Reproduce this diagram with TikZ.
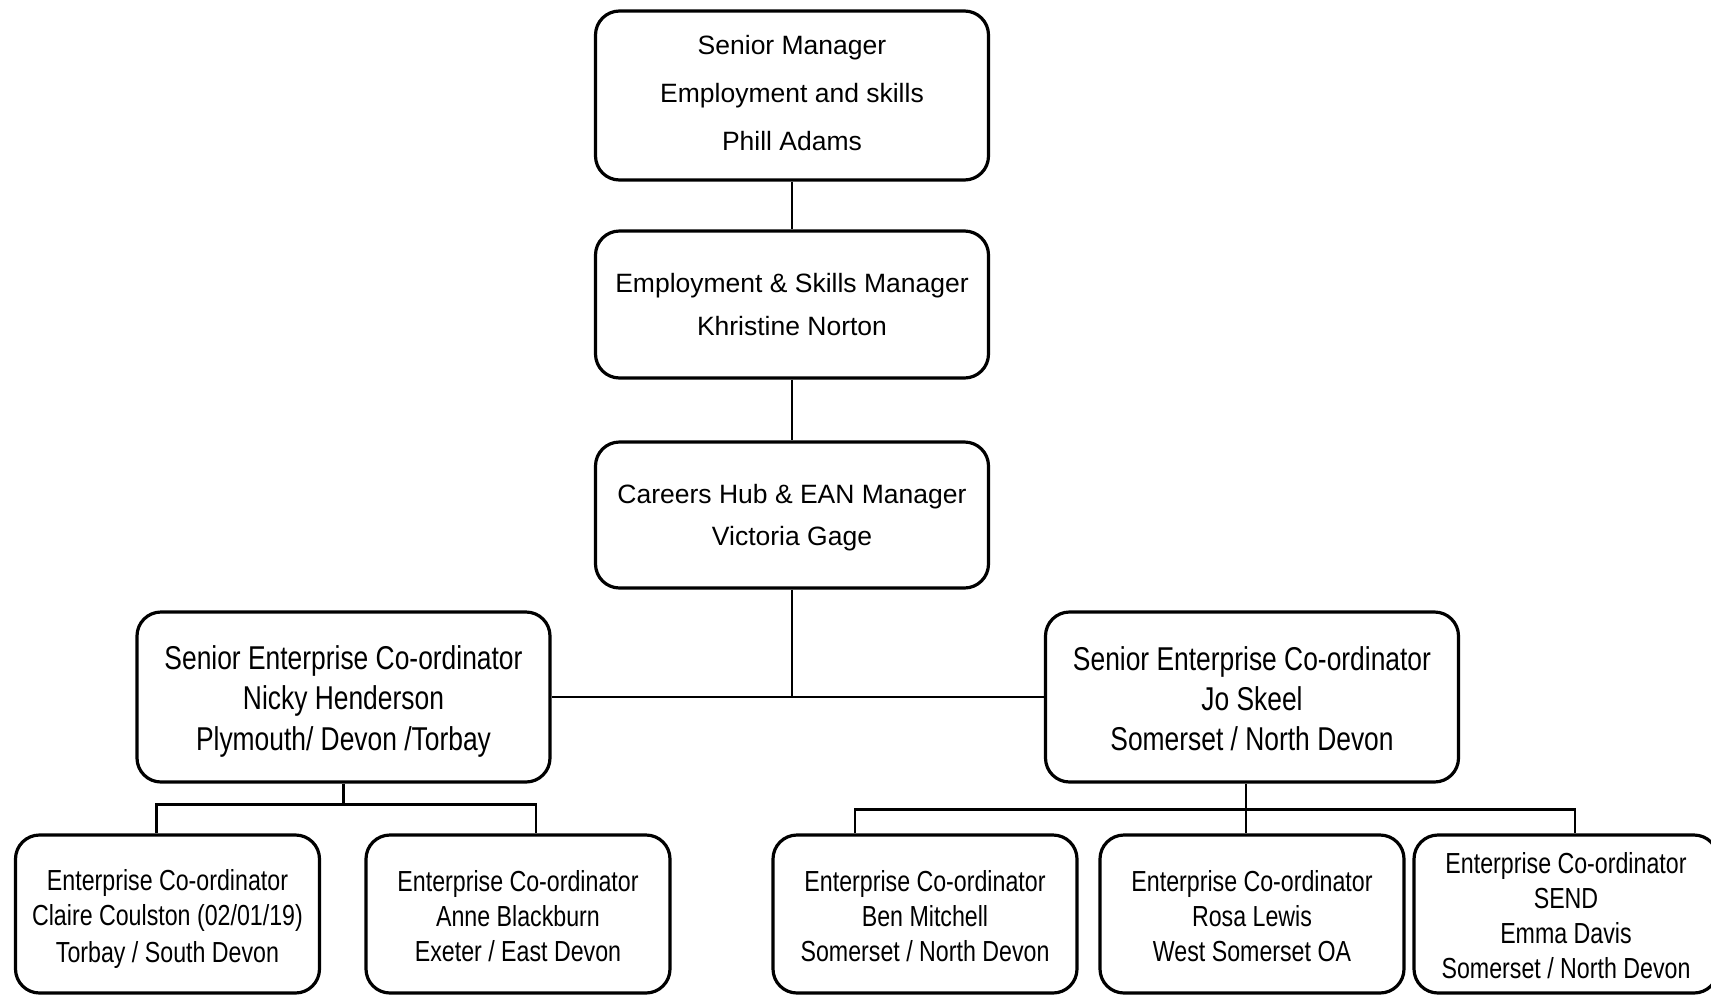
\documentclass[tikz,border=0pt]{standalone}
\usepackage{fontspec}
\setmainfont{Liberation Sans}
\newfontfamily\narrowfont[FakeStretch=0.8]{Liberation Sans}
\newcommand{\seniorstrut}{\rule[-8pt]{0pt}{42pt}}
\newcommand{\coordstrut}{\rule[-6pt]{0pt}{36pt}}
\tikzstyle{box}=[draw, line width=3.2pt, rounded corners=24pt, align=center, inner sep=0pt]
\tikzstyle{manager box}=[box, minimum width=393pt, font=\fontsize{26.5}{42.5}\selectfont]
\tikzstyle{senior box}=[box, minimum width=413pt, minimum height=170pt, font=\narrowfont\fontsize{33}{40}\selectfont]
\tikzstyle{coord box}=[box, minimum width=304pt, minimum height=158pt, font=\narrowfont\fontsize{29}{35}\selectfont]
\tikzstyle{link}=[line width=2.7pt]

\begin{document}
\begin{tikzpicture}[x=1pt,y=-1pt]
    \useasboundingbox (0,0) rectangle (1711,994);
    \clip (0,0) rectangle (1711,994);

    % Managers
    \draw (792,95.5) node[manager box, minimum height=169pt, font=\fontsize{26.5}{48}\selectfont] (senior) {Senior Manager\\Employment and skills\\Phill Adams\rule[-4.5pt]{0pt}{0pt}};
    \draw (792,304.5) node[manager box, minimum height=147pt] (skills) {Employment \& Skills Manager\\Khristine Norton};
    \draw (792,515) node[manager box, minimum height=146pt] (hub) {\rule{0pt}{24pt}Careers Hub \& EAN Manager\\Victoria Gage};

    % Senior co-ordinators
    \draw (343.5,697) node[senior box] (nicky) {\seniorstrut Senior Enterprise Co-ordinator\\Nicky Henderson\\Plymouth/ Devon /Torbay\seniorstrut};
    \draw (1252,697) node[senior box] (jo) {\seniorstrut Senior Enterprise Co-ordinator\\Jo Skeel\\Somerset / North Devon\seniorstrut};

    % Co-ordinators
    \draw (167.5,914) node[coord box] (claire) {\coordstrut Enterprise Co-ordinator\\Claire Coulston (02/01/19)\\Torbay / South Devon\coordstrut};
    \draw (518,914) node[coord box] (anne) {\coordstrut Enterprise Co-ordinator\\Anne Blackburn\\Exeter / East Devon\coordstrut};
    \draw (925,914) node[coord box] (ben) {\coordstrut Enterprise Co-ordinator\\Ben Mitchell\\Somerset / North Devon\coordstrut};
    \draw (1252,914) node[coord box] (rosa) {\coordstrut Enterprise Co-ordinator\\Rosa Lewis\\West Somerset OA\coordstrut};
    \draw (1566,914) node[coord box] (emma) {\coordstrut Enterprise Co-ordinator\\SEND\\Emma Davis\\Somerset / North Devon\coordstrut};

    % Links
    \draw[link] (senior) -- (skills);
    \draw[link] (skills) -- (hub);
    \draw[link] (nicky) -- (jo);
    \draw[link] (hub) -- (hub |- nicky);
    \draw[link] (nicky.south) -- ++(0,21) coordinate (west bus);
    \draw[link] ([xshift=-11]claire.north) |- (west bus) -| ([xshift=18]anne.north);
    \draw[link] ([xshift=-6]jo.south) -- ++(0,26) coordinate (east bus);
    \draw[link] ([xshift=-70]ben.north) |- (east bus) -| ([xshift=9]emma.north);
    \draw[link] (east bus) -- (east bus |- rosa.north);

\end{tikzpicture}
\end{document}
